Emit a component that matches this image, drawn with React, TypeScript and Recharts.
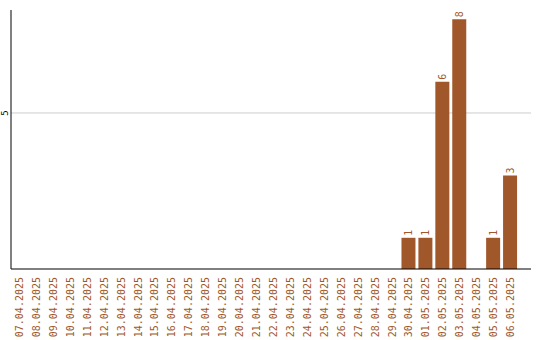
import { BarChart, Bar, XAxis, YAxis, CartesianGrid, LabelList } from "recharts";

const days = [
  "07.04.2025", "08.04.2025", "09.04.2025", "10.04.2025", "11.04.2025",
  "12.04.2025", "13.04.2025", "14.04.2025", "15.04.2025", "16.04.2025",
  "17.04.2025", "18.04.2025", "19.04.2025", "20.04.2025", "21.04.2025",
  "22.04.2025", "23.04.2025", "24.04.2025", "25.04.2025", "26.04.2025",
  "27.04.2025", "28.04.2025", "29.04.2025", "30.04.2025", "01.05.2025",
  "02.05.2025", "03.05.2025", "04.05.2025", "05.05.2025", "06.05.2025",
];
const counts = [
  0, 0, 0, 0, 0, 0, 0, 0, 0, 0,
  0, 0, 0, 0, 0, 0, 0, 0, 0, 0,
  0, 0, 0, 1, 1, 6, 8, 0, 1, 3,
];
const yTicks = [5];

const BROWN = "#a0572a";
const MONO = "'DejaVu Sans Mono', monospace";
const LABEL_TOP = 277;

const data = days.map((day, i) => ({ day, count: counts[i] }));

function DayTick(props: any) {
  const { x, payload } = props;
  const y = LABEL_TOP;
  return (
    <text
      x={x}
      y={y}
      transform={`rotate(-90, ${x}, ${y})`}
      textAnchor="end"
      dominantBaseline="central"
      fill={BROWN}
      fontFamily={MONO}
      fontSize={10}
    >
      {payload.value}
    </text>
  );
}

function CountTick(props: any) {
  const { y, payload } = props;
  const x = 5;
  return (
    <g>
      <text
        x={x}
        y={y}
        transform={`rotate(-90, ${x}, ${y})`}
        textAnchor="middle"
        dominantBaseline="central"
        fill="#000000"
        fontFamily={MONO}
        fontSize={9}
      >
        {String(payload.value)}
      </text>
    </g>
  );
}

function ValueLabel(props: any) {
  const { x, y, width, value } = props;
  if (!value) return null;
  const cx = x + width / 2;
  const cy = y - 2;
  return (
    <text
      x={cx}
      y={cy}
      transform={`rotate(-90, ${cx}, ${cy})`}
      textAnchor="start"
      dominantBaseline="central"
      fill={BROWN}
      fontFamily={MONO}
      fontSize={10}
    >
      {value}
    </text>
  );
}

export default function App() {
  return (
    <div style={{ position: "absolute", left: 0, top: 0, background: "#fff", width: 540, height: 340 }}>
      <BarChart
        width={540}
        height={340}
        data={data}
        margin={{ top: 10, right: 9, left: 0, bottom: 0 }}
      >
        {/* grid sits under the bars */}
        <CartesianGrid vertical={false} horizontalValues={yTicks} stroke="#cccccc" />
        <XAxis
          dataKey="day"
          interval={0}
          height={71}
          tickLine={false}
          axisLine={{ stroke: "#000" }}
          tick={<DayTick />}
          padding={{ left: 0, right: 12 }}
        />
        <YAxis
          type="number"
          width={11}
          domain={[0, 8.3]}
          ticks={yTicks}
          interval={0}
          tickLine={false}
          axisLine={{ stroke: "#000" }}
          tick={<CountTick />}
        />
        <Bar dataKey="count" fill={BROWN} barSize={14} isAnimationActive={false}>
          <LabelList dataKey="count" content={<ValueLabel />} />
        </Bar>
      </BarChart>
    </div>
  );
}
